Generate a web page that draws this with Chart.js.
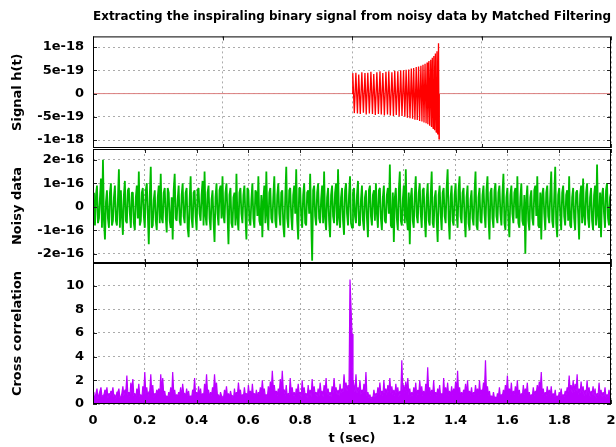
<!DOCTYPE html>
<html>
<head>
<meta charset="utf-8">
<title>Matched filtering</title>
<script src="https://cdn.jsdelivr.net/npm/chart.js@4.4.1/dist/chart.umd.min.js"></script>
<style>
  body { margin: 0; background: #fff; }
  #wrap { position: relative; width: 616px; height: 447px; overflow: hidden; }
  canvas { position: absolute; left: 0; }
</style>
</head>
<body>
<div id="wrap">
  <canvas id="signalChart" width="616" height="148" style="top:0px"></canvas>
  <canvas id="noiseChart" width="616" height="114" style="top:149px"></canvas>
  <canvas id="corrChart" width="616" height="184" style="top:263px"></canvas>
</div>
<script>
// shared time axis (sec)
const timeTicks = [0, 0.2, 0.4, 0.6, 0.8, 1, 1.2, 1.4, 1.6, 1.8, 2];
const timeTickLabels = ['0', '0.2', '0.4', '0.6', '0.8', '1', '1.2', '1.4', '1.6', '1.8', '2'];
const signalGridTimes = [0, 0.5, 1, 1.5, 2];

// top panel: h(t) is zero except for the chirp (amplitude in units of 1e-18)
const chirpTimes = [
  1.000,
  1.003, 1.009, 1.015, 1.021, 1.026, 1.032, 1.038, 1.044, 1.050, 1.055,
  1.061, 1.067, 1.073, 1.079, 1.084, 1.090, 1.096, 1.102, 1.108, 1.113,
  1.119, 1.125, 1.131, 1.137, 1.142, 1.148, 1.154, 1.160, 1.165, 1.171,
  1.177, 1.182, 1.188, 1.193,
  1.199, 1.204, 1.209, 1.214, 1.219, 1.224, 1.229, 1.234, 1.238, 1.243,
  1.248, 1.252, 1.257, 1.261, 1.266, 1.270, 1.274, 1.278,
  1.282, 1.286, 1.290, 1.293, 1.297, 1.300, 1.304, 1.307, 1.310, 1.313,
  1.316, 1.319, 1.322, 1.325, 1.328, 1.331, 1.334, 1.336,
  1.337
];
const chirpValues = [
  0,
  0.44, -0.42, 0.45, -0.43, 0.41, -0.44, 0.46, -0.41, 0.44, -0.45,
  0.45, -0.43, 0.47, -0.44, 0.42, -0.46, 0.46, -0.44, 0.48, -0.45,
  0.44, -0.47, 0.47, -0.45, 0.48, -0.47, 0.46, -0.48, 0.49, -0.46,
  0.48, -0.49, 0.50, -0.48,
  0.50, -0.50, 0.51, -0.52, 0.52, -0.53, 0.54, -0.54, 0.55, -0.56,
  0.57, -0.57, 0.58, -0.59, 0.60, -0.60, 0.62, -0.62,
  0.64, -0.64, 0.67, -0.66, 0.70, -0.69, 0.73, -0.72, 0.77, -0.75,
  0.81, -0.79, 0.86, -0.83, 0.91, -0.88, 1.08, -0.98,
  0
];
const signalTicks = [-1e-18, -5e-19, 0, 5e-19, 1e-18];
const signalTickLabels = ['-1e-18', '-5e-19', '0', '5e-19', '1e-18'];

// middle panel: noisy data, evenly sampled over 0..2 s (units of 1e-17)
const noiseValues = [
  6, -3, -8, 5, 9, -7, -5, 4, 12, -9, 20, -6, -14, 2, 7, -5, -9, 6, 10, -8,
  -6, 4, 9, -6, -8, 3, 16, -9, 7, -4, -12, 5, 11, -6, -7, 7, 8, -3, -9, 6,
  6, -7, -10, 4, 9, -5, 15, -8, -6, 6, 8, -4, -9, 7, 10, -3, -16, 5, 17, -9,
  -8, 3, 7, -6, -10, 4, 9, -7, 14, -5, -7, 6, 8, -4, -11, 8, 6, -6, -9, 4,
  -14, 7, 14, -5, -6, 3, 9, -6, -8, 5, 10, -4, -7, 6, 8, -9, -13, 3, 13, -5,
  -9, 6, 7, -4, -10, 7, 8, -3, -6, 5, 11, -8, 15, -4, -8, 6, 9, -5, -10, 3,
  7, -6, -15, 4, 10, -3, -8, 7, 9, -5, 13, -4, -7, 6, 10, -3, -16, 5, 8, -7,
  -9, 4, 6, -8, 14, -5, -10, 6, 8, -3, -7, 5, 9, -4, -14, 8, 7, -6, -8, 3,
  10, -5, -9, 7, 6, -4, 13, -6, -8, 5, -13, 3, 9, -7, 15, -4, -10, 6, 8, -5,
  -7, 4, 13, -6, -9, 5, 10, -3, -8, 6, 7, -8, -13, 4, 17, -5, -9, 7, 8, -4,
  -10, 5, 9, -3, 16, -6, -14, 8, 8, -4, -9, 5, 10, -7, -8, 6, 7, -3, 14, -5,
  -23, 7, 9, -4, -8, 6, 10, -5, -7, 3, 9, -7, 15, -5, -10, 4, 8, -6, -13, 5,
  9, -4, -7, 6, 10, -8, 16, -5, -9, 4, 8, -6, -12, 7, 10, -3, -8, 5, 13, -7,
  -9, 6, 8, -4, -7, 5, 11, -8, -8, 3, 9, -6, -10, 4, 7, -5, -13, 7, 9, -4,
  -8, 5, 7, -6, 10, -3, -9, 7, 8, -5, -10, 4, 9, -6, -7, 5, 8, -3, 18, -8,
  -9, 6, -15, 4, 8, -5, -10, 7, 15, -6, -8, 3, 9, -7, 16, -5, -10, 6, -16, 4,
  8, -6, -9, 5, 13, -4, -7, 6, 10, -3, -9, 7, 8, -5, -13, 4, 10, -6, -8, 5,
  15, -7, -9, 4, 7, -6, -15, 5, 9, -3, -10, 6, 8, -4, -7, 8, 16, -5, -14, 4,
  9, -6, -8, 5, 10, -3, -9, 7, 13, -4, -7, 6, 8, -5, -13, 4, 9, -7, -10, 3,
  7, -5, -8, 6, 15, -8, -10, 4, 8, -6, -7, 5, 9, -3, -9, 7, 13, -4, -14, 6,
  8, -5, -9, 7, 10, -4, -7, 6, 9, -3, -8, 5, 14, -7, -10, 4, 8, -6, -13, 5,
  9, -3, -7, 6, 8, -5, 13, -7, -9, 4, 10, -6, -8, 5, -20, 3, 9, -6, -10, 4,
  7, -5, -8, 7, 9, -4, 13, -8, -9, 6, -14, 5, 8, -3, -10, 6, 9, -4, -7, 5,
  15, -6, -9, 4, 17, -7, -13, 5, 8, -3, -10, 6, 9, -4, -8, 5, 7, -6, 13, -8,
  -9, 4, 8, -5, -10, 6, 7, -3, -14, 5, 9, -7, 12, -4, -8, 6, 10, -5, -9, 4,
  8, -6, -10, 5, 9, -8, 18, -4, -9, 6, -13, 5, 8, -3, -9, 7, 10, -5, -8, 4,
  6
];
const noiseTicks = [-2e-16, -1e-16, 0, 1e-16, 2e-16];
const noiseTickLabels = ['-2e-16', '-1e-16', '0', '1e-16', '2e-16'];

// bottom panel: cross correlation, evenly sampled over 0..2 s
const corrValues = [
  1.0, 0.5, 0.6, 0.9, 1.3, 0.4, 0.8, 1.1, 1.4, 0.6, 0.7, 0.8, 1.2, 0.9, 1.4, 0.5, 0.9, 0.7, 1.1, 0.9,
  1.4, 0.6, 0.8, 0.4, 1.0, 1.0, 1.3, 0.5, 0.6, 0.9, 1.5, 0.7, 1.2, 1.1, 2.4, 0.8, 1.0, 0.6, 1.8, 1.2,
  2.1, 0.7, 0.9, 0.5, 1.3, 0.9, 1.7, 0.6, 0.8, 0.4, 1.5, 1.0, 2.7, 0.8, 1.4, 0.6, 1.0, 1.1, 2.5, 0.9,
  1.6, 0.5, 0.9, 0.7, 1.2, 0.9, 1.3, 0.6, 2.5, 1.2, 2.2, 0.8, 1.1, 0.5, 0.7, 0.4, 1.0, 0.7, 1.4, 0.6,
  2.7, 1.0, 1.2, 0.5, 0.8, 0.6, 1.0, 0.8, 1.4, 0.5, 1.7, 0.9, 0.9, 0.6, 1.3, 0.7, 1.1, 0.4, 0.7, 0.5,
  1.2, 0.9, 2.2, 0.8, 1.0, 0.6, 1.5, 0.7, 1.3, 0.5, 0.9, 0.6, 1.7, 1.1, 2.5, 0.9, 1.2, 0.5, 1.0, 0.7,
  1.4, 1.0, 2.5, 1.2, 1.8, 0.6, 0.8, 0.4, 1.0, 0.7, 0.6, 0.5, 1.2, 0.8, 1.5, 0.6, 0.9, 0.5, 1.1, 0.7,
  0.7, 0.4, 1.3, 0.6, 1.0, 0.8, 1.8, 0.9, 1.2, 0.5, 0.8, 0.6, 1.4, 0.7, 0.9, 0.5, 1.6, 0.8, 1.1, 0.6,
  1.7, 0.7, 0.9, 0.6, 1.2, 0.5, 1.0, 0.8, 1.4, 0.9, 2.0, 1.0, 1.3, 0.6, 0.8, 0.5, 1.5, 0.9, 1.9, 1.1,
  2.8, 1.3, 1.6, 0.8, 1.1, 0.7, 1.3, 0.9, 2.1, 1.0, 2.8, 1.2, 1.2, 0.7, 1.6, 0.6, 0.9, 0.8, 2.2, 1.0,
  1.4, 0.7, 1.0, 0.5, 1.3, 0.9, 1.7, 0.8, 1.0, 0.6, 2.0, 0.9, 1.4, 0.7, 0.9, 0.5, 1.6, 0.8, 1.2, 0.6,
  2.1, 1.0, 1.5, 0.8, 1.0, 0.6, 1.3, 0.7, 1.8, 0.9, 1.1, 0.6, 1.6, 1.0, 2.2, 0.8, 1.3, 0.7, 1.0, 0.6,
  1.5, 0.9, 2.2, 1.1, 1.4, 0.8, 1.2, 0.7, 1.7, 0.9, 1.3, 1.0, 2.5, 1.3, 1.8, 1.1, 1.6, 1.4, 10.5, 8.2,
  5.9, 2.1, 1.6, 1.0, 2.5, 0.9, 1.4, 1.1, 2.0, 0.8, 1.2, 0.9, 1.7, 1.0, 2.7, 0.7, 1.0, 0.5, 0.8, 0.4,
  0.6, 0.5, 1.2, 0.6, 0.9, 0.7, 1.4, 0.9, 1.8, 0.8, 1.1, 0.7, 2.0, 0.9, 1.3, 0.8, 1.6, 1.0, 2.2, 0.9,
  1.5, 0.8, 1.2, 0.7, 1.7, 0.9, 1.4, 0.6, 1.1, 0.8, 3.7, 1.2, 1.6, 0.9, 1.9, 1.0, 2.2, 0.8, 1.3, 0.6,
  1.0, 0.7, 1.4, 0.9, 1.8, 0.6, 1.2, 0.8, 2.0, 0.9, 1.5, 0.7, 1.1, 0.6, 1.7, 1.1, 3.1, 0.9, 1.4, 0.7,
  1.2, 0.8, 2.0, 0.6, 1.0, 0.7, 1.3, 0.9, 1.6, 0.6, 0.9, 0.5, 2.2, 0.9, 1.4, 0.8, 1.8, 0.7, 1.1, 0.6,
  1.5, 0.7, 1.3, 0.9, 1.9, 1.0, 2.8, 0.8, 1.4, 0.6, 1.0, 0.7, 1.2, 0.9, 1.7, 0.8, 2.0, 0.6, 1.1, 0.7,
  1.4, 0.6, 1.0, 0.8, 1.6, 0.9, 1.3, 0.7, 2.0, 0.8, 1.2, 1.0, 1.8, 1.2, 3.7, 0.9, 1.5, 0.7, 1.1, 0.5,
  0.7, 0.4, 1.0, 0.5, 0.6, 0.4, 0.9, 0.6, 1.4, 0.5, 0.8, 0.7, 1.2, 0.8, 1.6, 1.0, 2.4, 0.9, 1.3, 0.8,
  1.8, 0.6, 1.1, 0.8, 1.5, 0.9, 2.0, 0.7, 1.2, 0.5, 0.9, 0.6, 1.6, 0.8, 1.3, 0.9, 1.8, 0.6, 1.0, 0.5,
  0.8, 0.6, 1.4, 0.7, 1.1, 0.9, 1.6, 1.0, 1.9, 1.2, 2.7, 0.8, 1.3, 0.6, 1.0, 0.7, 1.5, 0.8, 1.2, 0.7,
  1.5, 0.5, 0.9, 0.6, 1.2, 0.4, 0.7, 0.5, 1.0, 0.7, 1.3, 0.5, 0.8, 0.6, 1.1, 0.8, 1.4, 1.0, 2.4, 1.2,
  1.6, 0.9, 2.0, 1.0, 1.7, 1.1, 2.5, 0.8, 1.3, 0.9, 1.9, 1.0, 1.5, 0.7, 1.2, 0.8, 2.0, 0.9, 1.4, 0.6,
  1.1, 0.8, 1.5, 0.7, 1.3, 0.5, 0.9, 0.7, 1.8, 0.8, 1.2, 0.6, 1.0, 0.7, 1.4, 0.5, 0.8, 0.6, 1.2, 0.7,
  1.0
];
const corrTicks = [0, 2, 4, 6, 8, 10];
const corrTickLabels = ['0', '2', '4', '6', '8', '10'];

Chart.defaults.font.family = 'DejaVu Sans';
Chart.defaults.color = '#000';
Chart.defaults.animation = false;

const GRID = 'rgba(150,150,150,0.8)';
const boldFont = { size: 13, weight: 'bold' };

function evenPoints(values, scale) {
  const step = 2 / (values.length - 1);
  return values.map((v, i) => ({ x: i * step, y: v * scale }));
}

const signalPoints = [{ x: 0, y: 0 }]
  .concat(chirpTimes.map((t, i) => ({ x: t, y: chirpValues[i] * 1e-18 })))
  .concat([{ x: 2, y: 0 }]);

function fixedTicks(values) {
  return scale => { scale.ticks = values.map(v => ({ value: v })); };
}

function yAxis(min, max, ticks, labels, title) {
  return {
    type: 'linear', position: 'left', min: min, max: max,
    afterBuildTicks: fixedTicks(ticks),
    afterFit: s => { s.width = 93; s.paddingTop = 0; s.paddingBottom = 0; },
    grid: { color: GRID, drawTicks: false },
    border: { display: false, dash: [2, 3] },
    ticks: { callback: (v, i) => labels[i], padding: 9, font: boldFont, color: '#000' },
    title: { display: true, text: title, font: boldFont, color: '#000', padding: { top: 10, bottom: 0 } }
  };
}

function xAxis(ticks, showLabels) {
  return {
    type: 'linear', min: 0, max: 2,
    afterBuildTicks: fixedTicks(ticks),
    afterFit: s => { s.height = showLabels ? 43 : 0; s.paddingLeft = 0; s.paddingRight = 0; },
    grid: { color: GRID, drawTicks: false },
    border: { display: false, dash: [2, 3] },
    ticks: { display: showLabels, callback: (v, i) => timeTickLabels[i], padding: 9,
             autoSkip: false, maxRotation: 0, font: boldFont, color: '#000' },
    title: { display: showLabels, text: 't (sec)', font: boldFont, color: '#000', padding: { top: 0, bottom: 1 } }
  };
}

// gnuplot style box with inward tick marks
const framePlugin = {
  id: 'frame',
  afterDatasetsDraw(chart) {
    const { ctx, chartArea: a, scales } = chart;
    const len = 4;
    ctx.save();
    ctx.strokeStyle = '#222';
    ctx.lineWidth = 1;
    ctx.beginPath();
    scales.x.ticks.forEach(t => {
      const px = Math.round(scales.x.getPixelForValue(t.value)) + 0.5;
      ctx.moveTo(px, a.top); ctx.lineTo(px, a.top + len);
      ctx.moveTo(px, a.bottom); ctx.lineTo(px, a.bottom - len);
    });
    scales.y.ticks.forEach(t => {
      const py = Math.round(scales.y.getPixelForValue(t.value)) + 0.5;
      ctx.moveTo(a.left, py); ctx.lineTo(a.left + len, py);
      ctx.moveTo(a.right, py); ctx.lineTo(a.right - len, py);
    });
    ctx.stroke();
    ctx.strokeStyle = '#000';
    ctx.strokeRect(a.left + 0.5, a.top + 0.5, a.right - a.left - 1, a.bottom - a.top - 1);
    ctx.restore();
  }
};

function baseOptions(xScale, yScale, extraPlugins) {
  return {
    responsive: false,
    devicePixelRatio: 1,
    layout: { padding: { left: 0, right: 5, top: 0, bottom: 0 } },
    elements: { point: { radius: 0 }, line: { tension: 0, borderJoinStyle: 'bevel' } },
    scales: { x: xScale, y: yScale },
    plugins: Object.assign({ legend: { display: false }, tooltip: { enabled: false } }, extraPlugins || {})
  };
}

new Chart(document.getElementById('signalChart'), {
  type: 'line',
  data: {
    datasets: [{
      data: signalPoints,
      borderColor: '#ff0000',
      borderWidth: 1.3,
      segment: {
        borderColor: c => (c.p0.parsed.y === 0 && c.p1.parsed.y === 0) ? '#dc8080' : undefined,
        borderWidth: c => (c.p0.parsed.y === 0 && c.p1.parsed.y === 0) ? 1 : undefined
      }
    }]
  },
  options: baseOptions(
    xAxis(signalGridTimes, false),
    yAxis(-1.17e-18, 1.23e-18, signalTicks, signalTickLabels, 'Signal h(t)'),
    {
      title: {
        display: true, fullSize: false,
        text: 'Extracting the inspiraling binary signal from noisy data by Matched Filtering',
        font: { size: 12, weight: 'bold' }, color: '#000',
        padding: { top: 10, bottom: 12 }
      }
    }
  ),
  plugins: [framePlugin]
});

new Chart(document.getElementById('noiseChart'), {
  type: 'line',
  data: {
    datasets: [{
      data: evenPoints(noiseValues, 1e-17),
      borderColor: '#00bb00',
      borderWidth: 1.8
    }]
  },
  options: baseOptions(
    xAxis(timeTicks, false),
    yAxis(-2.4e-16, 2.46e-16, noiseTicks, noiseTickLabels, 'Noisy data')
  ),
  plugins: [framePlugin]
});

new Chart(document.getElementById('corrChart'), {
  type: 'line',
  data: {
    datasets: [{
      data: evenPoints(corrValues, 1),
      borderColor: '#bb00ff',
      backgroundColor: '#bb00ff',
      borderWidth: 1.2,
      fill: 'origin'
    }]
  },
  options: baseOptions(
    xAxis(timeTicks, true),
    yAxis(0, 11.9, corrTicks, corrTickLabels, 'Cross correlation')
  ),
  plugins: [framePlugin]
});
</script>
</body>
</html>
